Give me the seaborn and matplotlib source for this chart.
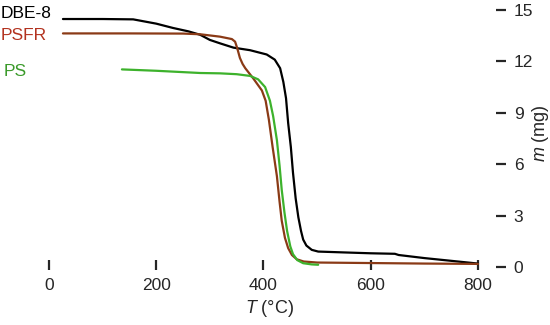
import matplotlib.pyplot as plt
import pandas as pd
import seaborn as sns

# TGA curves, mass (mg) vs temperature (C)
dbe_T = [26, 100, 157, 200, 231, 260, 282, 300, 319, 344, 375, 406, 421, 431, 437, 442, 446, 451, 455,
         460, 465, 470, 474, 480, 490, 502, 550, 600, 645, 652, 700, 750, 800]
dbe_m = [14.47, 14.47, 14.45, 14.2, 13.95, 13.75, 13.55, 13.25, 13.05, 12.8, 12.65, 12.4, 12.1, 11.6,
         10.8, 9.85, 8.4, 7.0, 5.5, 4.0, 2.9, 2.1, 1.6, 1.25, 1.0, 0.9, 0.85, 0.8, 0.77, 0.7, 0.52, 0.36, 0.2]

psfr_T = [26, 150, 250, 282, 319, 341, 347, 351, 356, 361, 366, 381, 397, 404, 410, 417, 425, 430, 434,
          440, 446, 453, 462, 475, 500, 600, 700, 800]
psfr_m = [13.63, 13.63, 13.62, 13.58, 13.44, 13.3, 13.15, 12.77, 12.2, 11.85, 11.6, 11.0, 10.3, 9.7, 8.6,
          7.0, 5.3, 3.8, 2.7, 1.7, 1.1, 0.7, 0.45, 0.32, 0.26, 0.23, 0.2, 0.18]

ps_T = [136, 200, 282, 319, 350, 375, 390, 403, 412, 418, 425, 430, 434, 439, 444, 450, 455, 463, 474,
        490, 502]
ps_m = [11.53, 11.45, 11.32, 11.3, 11.25, 11.15, 10.95, 10.5, 9.7, 8.8, 7.4, 5.9, 4.5, 3.2, 2.1, 1.2, 0.75,
        0.4, 0.22, 0.15, 0.13]

names = ['DBE-8', 'PSFR', 'PS']
line_colors = ['black', '#8a3a16', '#3db22c']
text_colors = ['black', '#b3321f', '#3a9a2a']

x_ticks = [0, 200, 400, 600, 800]
y_ticks = [0, 3, 6, 9, 12, 15]

sns.set_style('white')
plt.rcParams['font.family'] = ['Liberation Sans', 'DejaVu Sans']
plt.rcParams['mathtext.fontset'] = 'custom'
plt.rcParams['mathtext.it'] = 'Liberation Sans:italic'
plt.rcParams['mathtext.rm'] = 'Liberation Sans'

fig = plt.figure(figsize=(5.5, 3.25), dpi=100)
ax = fig.add_axes([0, 0, 1, 1])

curves = [(dbe_T, dbe_m), (psfr_T, psfr_m), (ps_T, ps_m)]
for (T, m), name, col in zip(curves, names, line_colors):
    df = pd.DataFrame({'T': T, 'm': m})
    sns.lineplot(data=df, x='T', y='m', ax=ax, color=col, linewidth=1.6, sort=False, estimator=None)

# axis limits chosen so the figure pixels map like the reference
ax.set_xlim(-91.4, 934.3)
ax.set_ylim(-3.385, 15.58)

# no spines, only the tick marks
for s in ['top', 'left', 'bottom', 'right']:
    ax.spines[s].set_visible(False)
ax.spines['bottom'].set_position(('data', 0.1))
ax.spines['right'].set_position(('data', 842))

ax.set_xticks(x_ticks)
ax.set_yticks(y_ticks)
ax.yaxis.tick_right()
ax.tick_params(axis='x', direction='inout', length=7, width=1.6, pad=6, labelsize=12.5, bottom=True)
ax.tick_params(axis='y', direction='inout', length=7, width=1.6, pad=6, labelsize=12.5, right=True, left=False)
ax.set_xlabel('')
ax.set_ylabel('')

ax.text(412, -2.45, r'$T$ (°C)', ha='center', va='center', fontsize=13)
ax.text(916, 7.8, r'$m$ (mg)', ha='center', va='center', rotation=90, fontsize=13)

label_pos = [(-91, 14.77), (-91, 13.48), (-84, 11.38)]
for (x, y), name, col in zip(label_pos, names, text_colors):
    ax.text(x, y, name, ha='left', va='center', fontsize=12.5, color=col)

plt.savefig('out.png', dpi=100)
